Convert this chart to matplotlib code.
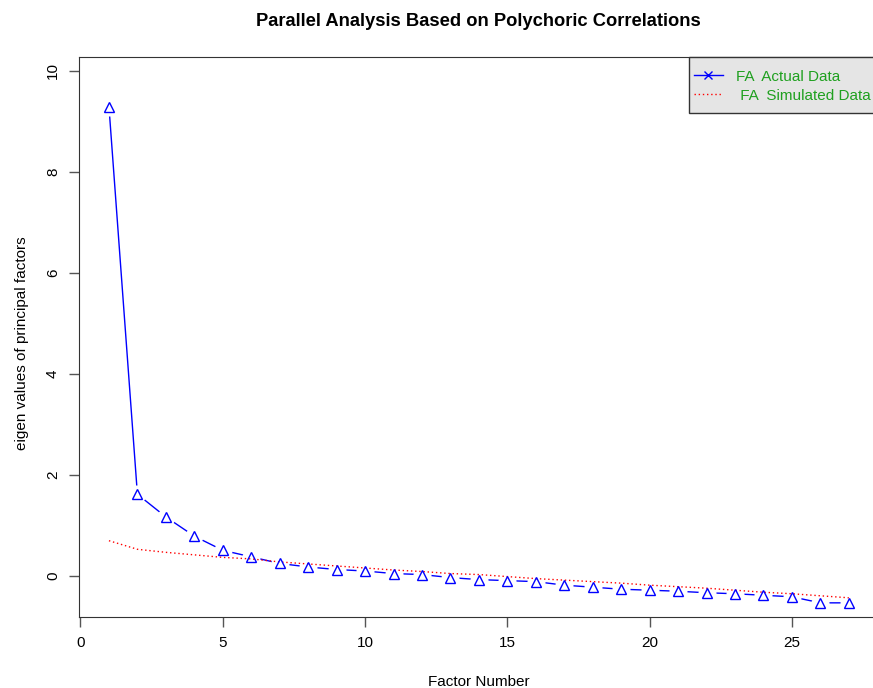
import matplotlib
matplotlib.use("Agg")
import matplotlib.pyplot as plt
from matplotlib.lines import Line2D
from matplotlib.patches import Rectangle

plt.rcParams['font.family'] = ['Liberation Sans', 'DejaVu Sans']

factor = list(range(1, 28))
actual = [9.29, 1.62, 1.17, 0.79, 0.51, 0.38, 0.25, 0.18, 0.13, 0.10, 0.05, 0.03, -0.03,
          -0.07, -0.09, -0.11, -0.18, -0.22, -0.26, -0.28, -0.30, -0.33, -0.35, -0.38,
          -0.41, -0.53, -0.53]
simulated = [0.70, 0.53, 0.47, 0.42, 0.37, 0.34, 0.28, 0.24, 0.20, 0.16, 0.12, 0.09, 0.05,
             0.03, -0.01, -0.05, -0.08, -0.11, -0.14, -0.18, -0.21, -0.24, -0.28, -0.32,
             -0.35, -0.39, -0.43]
xticks = [0, 5, 10, 15, 20, 25]
yticks = [0, 2, 4, 6, 8, 10]

fig = plt.figure(figsize=(8.73, 6.88), dpi=100)
# axes runs past the right edge like the cropped original
ax = fig.add_axes([0.0909, 0.1032, 0.9153, 0.8144])

# blue line with gaps round the points (R type="b")
ax.plot(factor, actual, color='#0000ff', lw=1, zorder=1)
ax.plot(factor, actual, 'o', ms=13, mfc='white', mec='none', zorder=2)
ax.plot(factor, simulated, color='red', lw=1, ls=(0, (1, 2)), zorder=3)
ax.plot(factor, actual, '^', ms=7, mfc='none', mec='#0000ff', mew=1.0, zorder=4)

ax.set_xlim(-0.04, 28.04)
ax.set_ylim(-0.81, 10.28)
ax.set_xticks(xticks)
ax.set_yticks(yticks)
ax.tick_params(direction='out', length=7, width=1, color='#555555', labelsize=11, pad=7)
plt.setp(ax.get_yticklabels(), rotation=90, va='center')
for s in ax.spines.values():
    s.set_color('#333333')

fig.text(0.548, 1 - 21.5 / 688, "Parallel Analysis Based on Polychoric Correlations",
         fontsize=13.2, fontweight='bold', ha='center', va='center')
fig.text(0.548, 1 - 682 / 688, "Factor Number", fontsize=11, ha='center', va='center')
fig.text(22 / 873, 1 - 343 / 688, "eigen values of principal factors", fontsize=11,
         rotation=90, ha='center', va='center')

# legend box (R style, square, grey fill)
ax.add_patch(Rectangle((0.7634, 0.900), 0.3, 0.1, transform=ax.transAxes, clip_on=False,
                       facecolor='#e5e5e5', edgecolor='#333333', lw=1, zorder=5))
handles = [Line2D([], [], color='#0000ff', lw=1, marker='x', ms=6),
           Line2D([], [], color='red', lw=1, ls=(0, (1, 2)))]
leg = ax.legend(handles, ["FA  Actual Data", " FA  Simulated Data"],
                loc='center left', bbox_to_anchor=(0.7634, 0.9474), borderaxespad=0,
                frameon=False, fontsize=11, handlelength=1.9, handletextpad=0.85,
                labelspacing=0.33, borderpad=0.3)
leg.set_zorder(6)
for t in leg.get_texts():
    t.set_color('#1fa01f')

fig.savefig("out.png", dpi=100)
